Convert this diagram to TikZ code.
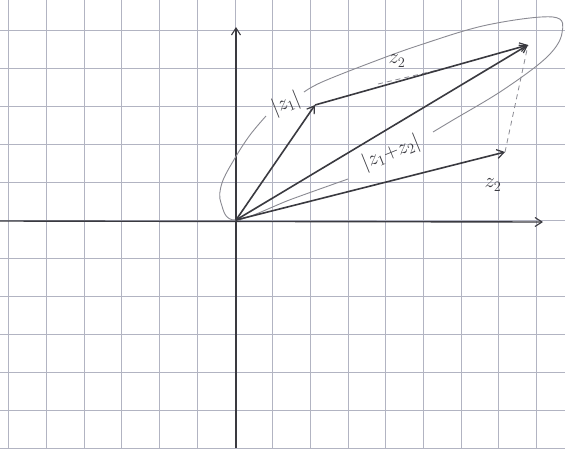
\documentclass[tikz,border=0pt]{standalone}
\usetikzlibrary{arrows.meta}
\definecolor{gridc}{HTML}{B2B4C2}
\definecolor{pencil}{HTML}{3A3A40}
\definecolor{faint}{HTML}{8A8A92}
\begin{document}
\begin{tikzpicture}[x=1pt,y=-1pt,
  gridline/.style={draw=gridc,line width=1pt},
  axis/.style={draw=pencil,line width=1.4pt,-{Straight Barb[length=7pt,width=9pt,line width=1.1pt]}},
  vec/.style={draw=pencil,line width=1.6pt,-{Straight Barb[length=7pt,width=9pt,line width=1.2pt]}},
  outline/.style={draw=faint,line width=0.9pt},
  guide/.style={draw=faint,line width=0.8pt,dash pattern=on 5pt off 4pt},
  lab/.style={text=pencil,font=\fontsize{20}{22}\selectfont,inner sep=0pt}]
\useasboundingbox (0,0) rectangle (565,448);
\fill[white] (0,0) rectangle (565,448);
% grid
\foreach \i in {-6,...,8} \draw[gridline] (235+37.7*\i,0) -- (235+37.7*\i,448);
\foreach \j in {-5,...,6} \draw[gridline] (0,220+38*\j) -- (565,220+38*\j);
% points
\coordinate (O) at (236,220);
\coordinate (A) at (315,105);
\coordinate (S) at (528,45);
\coordinate (B) at (505,152);
\coordinate (yb) at (236,448);
\coordinate (yt) at (236,27);
\coordinate (xl) at (0,221);
\coordinate (xr) at (543,222);
% axes
\draw[axis] (yb) -- (yt);
\draw[axis] (xl) -- (xr);
% enclosing outline
\draw[outline] plot[smooth,tension=0.6] coordinates {(433,132) (453,120) (503,90) (547,57) (562,33) (553,17) (487,25) (420,45) (370,63) (322,82) (304,92)};
\draw[outline] plot[smooth,tension=0.6] coordinates {(266,116) (250,135) (235,158) (222,183) (221,203) (O) (292,199) (348,179)};
% guides
\coordinate (g1) at (378,84);
\coordinate (g2) at (442,69);
\draw[guide] (B) -- (S);
\draw[guide] (g1) -- (g2);
% vectors
\draw[vec] (O) -- (A);
\draw[vec] (A) -- (S);
\draw[vec] (O) -- (S);
\draw[vec] (O) -- (B);
% labels
\node[lab,rotate=22] (lz1) at (286,104) {$|z_1|$};
\node[lab] (lz2t) at (397,61) {$z_2$};
\node[lab,rotate=22] (lsum) at (391,153) {$|z_1{+}z_2|$};
\node[lab] (lz2b) at (493,185) {$z_2$};
\end{tikzpicture}
\end{document}
